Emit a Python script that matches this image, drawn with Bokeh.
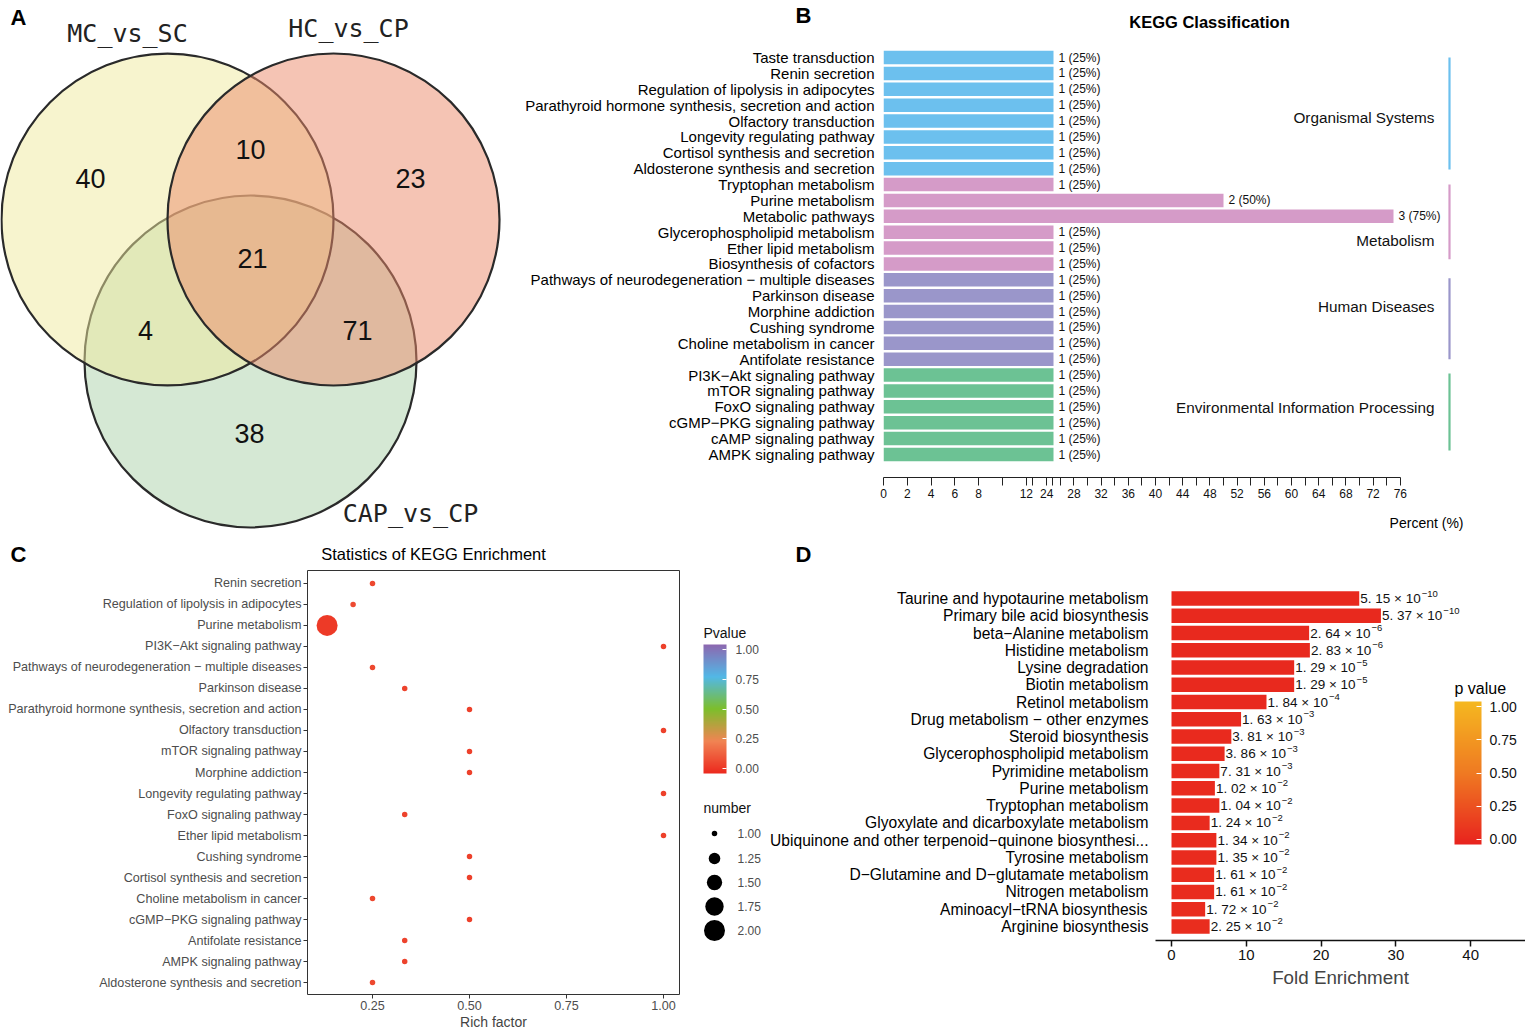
import numpy as np
from bokeh.plotting import figure
from bokeh.models import (Range1d, FixedTicker, ColorBar, LinearColorMapper,
                          PrintfTickFormatter, ColumnDataSource)
from bokeh.layouts import column, row
from bokeh.core.properties import value
from bokeh.embed import file_html
from bokeh.resources import INLINE

SANS = "Liberation Sans"
MONO = "DejaVu Sans Mono"

# ---------------- Panel A : Venn data ----------------
venn_sets = ["MC_vs_SC", "HC_vs_CP", "CAP_vs_CP"]
venn_regions = ["MC only", "MC&HC", "HC only", "MC&HC&CAP", "MC&CAP", "HC&CAP", "CAP only"]
venn_counts = [40, 10, 23, 21, 4, 71, 38]

# ---------------- Panel B : KEGG classification ----------------
kegg_terms = [
    "Taste transduction", "Renin secretion", "Regulation of lipolysis in adipocytes",
    "Parathyroid hormone synthesis, secretion and action", "Olfactory transduction",
    "Longevity regulating pathway", "Cortisol synthesis and secretion",
    "Aldosterone synthesis and secretion", "Tryptophan metabolism", "Purine metabolism",
    "Metabolic pathways", "Glycerophospholipid metabolism", "Ether lipid metabolism",
    "Biosynthesis of cofactors", "Pathways of neurodegeneration \u2212 multiple diseases",
    "Parkinson disease", "Morphine addiction", "Cushing syndrome",
    "Choline metabolism in cancer", "Antifolate resistance", "PI3K\u2212Akt signaling pathway",
    "mTOR signaling pathway", "FoxO signaling pathway", "cGMP\u2212PKG signaling pathway",
    "cAMP signaling pathway", "AMPK signaling pathway"]
kegg_counts = [1, 1, 1, 1, 1, 1, 1, 1,
               1, 2, 3, 1, 1, 1,
               1, 1, 1, 1, 1, 1,
               1, 1, 1, 1, 1, 1]
kegg_total = 4
kegg_groups = (["Organismal Systems"] * 8 + ["Metabolism"] * 6 +
               ["Human Diseases"] * 6 + ["Environmental Information Processing"] * 6)
kegg_group_names = ["Organismal Systems", "Metabolism", "Human Diseases",
                    "Environmental Information Processing"]
kegg_ticks_lower = [0, 2, 4, 6, 8, 10, 12]
kegg_ticks_upper = [24, 26, 28, 30, 32, 34, 36, 38, 40, 42, 44, 46, 48, 50, 52, 54, 56,
                    58, 60, 62, 64, 66, 68, 70, 72, 74, 76]

# ---------------- Panel C : enrichment dot plot ----------------
enr_terms = [
    "Renin secretion", "Regulation of lipolysis in adipocytes", "Purine metabolism",
    "PI3K\u2212Akt signaling pathway", "Pathways of neurodegeneration \u2212 multiple diseases",
    "Parkinson disease", "Parathyroid hormone synthesis, secretion and action",
    "Olfactory transduction", "mTOR signaling pathway", "Morphine addiction",
    "Longevity regulating pathway", "FoxO signaling pathway", "Ether lipid metabolism",
    "Cushing syndrome", "Cortisol synthesis and secretion", "Choline metabolism in cancer",
    "cGMP\u2212PKG signaling pathway", "Antifolate resistance", "AMPK signaling pathway",
    "Aldosterone synthesis and secretion"]
enr_rich = [0.25, 0.20, 0.133, 1.00, 0.25, 0.333, 0.50, 1.00, 0.50, 0.50,
            1.00, 0.333, 1.00, 0.50, 0.50, 0.25, 0.50, 0.333, 0.333, 0.25]
enr_number = [1, 1, 2, 1, 1, 1, 1, 1, 1, 1, 1, 1, 1, 1, 1, 1, 1, 1, 1, 1]
enr_pvalue = [0.05, 0.06, 0.01, 0.03, 0.05, 0.04, 0.03, 0.03, 0.03, 0.03,
              0.03, 0.04, 0.03, 0.03, 0.03, 0.05, 0.03, 0.04, 0.04, 0.05]
enr_size_breaks = [1.00, 1.25, 1.50, 1.75, 2.00]
enr_p_breaks = [0.0, 0.25, 0.5, 0.75, 1.0]

# ---------------- Panel D : fold enrichment ----------------
fe_terms = [
    "Taurine and hypotaurine metabolism", "Primary bile acid biosynthesis",
    "beta\u2212Alanine metabolism", "Histidine metabolism", "Lysine degradation",
    "Biotin metabolism", "Retinol metabolism", "Drug metabolism \u2212 other enzymes",
    "Steroid biosynthesis", "Glycerophospholipid metabolism", "Pyrimidine metabolism",
    "Purine metabolism", "Tryptophan metabolism", "Glyoxylate and dicarboxylate metabolism",
    "Ubiquinone and other terpenoid\u2212quinone biosynthesi...", "Tyrosine metabolism",
    "D\u2212Glutamine and D\u2212glutamate metabolism", "Nitrogen metabolism",
    "Aminoacyl\u2212tRNA biosynthesis", "Arginine biosynthesis"]
fe_fold = [25.1, 28.0, 18.4, 18.5, 16.4, 16.4, 12.7, 9.3, 8.0, 7.1,
           6.4, 5.8, 6.4, 5.1, 6.0, 6.0, 5.7, 5.7, 4.5, 5.1]
fe_p_mant = [5.15, 5.37, 2.64, 2.83, 1.29, 1.29, 1.84, 1.63, 3.81, 3.86,
             7.31, 1.02, 1.04, 1.24, 1.34, 1.35, 1.61, 1.61, 1.72, 2.25]
fe_p_exp = [-10, -10, -6, -6, -5, -5, -4, -3, -3, -3,
            -3, -2, -2, -2, -2, -2, -2, -2, -2, -2]
fe_ticks = [0, 10, 20, 30, 40]


# ---------------- helpers ----------------
def ramp(stops, n=256):
    xs = [s[0] for s in stops]
    rgb = [tuple(int(s[1][i:i + 2], 16) for i in (1, 3, 5)) for s in stops]
    out = []
    for t in np.linspace(0, 1, n):
        c = [np.interp(t, xs, [r[k] for r in rgb]) for k in range(3)]
        out.append("#%02x%02x%02x" % tuple(int(round(v)) for v in c))
    return out


def new_fig(w, h, xr, yr, axes=True):
    kw = dict(width=w, height=h, x_range=xr, y_range=yr, output_backend="svg",
              toolbar_location=None, tools="")
    if not axes:
        kw.update(x_axis_type=None, y_axis_type=None)
    p = figure(**kw)
    p.frame_align = False
    p.min_border_left = p.min_border_right = p.min_border_top = p.min_border_bottom = 0
    p.outline_line_color = None
    p.grid.visible = False
    p.background_fill_color = "white"
    p.border_fill_color = "white"
    return p


def put_text(p, x, y, t, size, bold=False, align="center", color="#000000", font=SANS):
    p.text(x=[x], y=[y], text=[t], text_font=value(font), text_font_size=size,
           text_font_style="bold" if bold else "normal", text_align=align,
           text_baseline="middle", text_color=color)


def dot_size(n, smin=5.5, smax=21.0):
    t = (n - 1.0) / (2.0 - 1.0)
    return float(np.sqrt(t * (smax ** 2 - smin ** 2) + smin ** 2))


# =============== Panel A ===============
pa = new_fig(515, 543, Range1d(0, 515), Range1d(543, 0), axes=False)
venn_cx = [167, 333, 250]
venn_cy = [219, 219, 361]
venn_r = 166
venn_fill = ["#EFE99D", "#EB8969", "#ABD1A9"]
draw_order = [2, 0, 1]
pa.circle(x=[venn_cx[i] for i in draw_order], y=[venn_cy[i] for i in draw_order],
          radius=venn_r, fill_color=[venn_fill[i] for i in draw_order], fill_alpha=0.5,
          line_color="#2a2a2a", line_width=2.2)
venn_set_xy = [(127, 33), (348, 28), (410, 513)]
venn_region_xy = [(90, 178), (250, 149), (410, 178), (252, 258), (145, 330), (357, 330), (249, 433)]
pa.text(x=[p[0] for p in venn_set_xy], y=[p[1] for p in venn_set_xy], text=venn_sets,
        text_font=value(MONO), text_font_size="25px", text_color="#222222",
        text_align="center", text_baseline="middle")
pa.text(x=[p[0] for p in venn_region_xy], y=[p[1] for p in venn_region_xy],
        text=[str(c) for c in venn_counts], text_font=value(SANS), text_font_size="27px",
        text_color="#111111", text_align="center", text_baseline="middle")
put_text(pa, 18, 17, "A", "22px", bold=True)

# =============== Panel B ===============
B_X0, B_PPU, B_Y0, B_DY = 883, 6.8, 57, 15.88


def bx(px):
    return (px - B_X0) / B_PPU


def by(py):
    return (py - B_Y0) / B_DY


def brk(v):  # broken percent axis: 0-12 stretched, gap, then 24-76
    return v * 1.75 if v <= 12 else v


pb_top = new_fig(1010, 41, Range1d(515, 1525), Range1d(41, 0), axes=False)
put_text(pb_top, 803, 15, "B", "22px", bold=True)
put_text(pb_top, 1209, 21, "KEGG Classification", "16.5px", bold=True)

pb = new_fig(1010, 470, Range1d(0, bx(1525)), Range1d(by(477), by(41)))
pb.min_border_left = 368
pb.min_border_bottom = 34

group_color = {"Organismal Systems": "#6CC0EE", "Metabolism": "#D59BC8",
               "Human Diseases": "#9A96CA", "Environmental Information Processing": "#6CC294"}
kegg_pct = [c / kegg_total * 100 for c in kegg_counts]
src_b = ColumnDataSource(dict(
    y=list(range(len(kegg_terms))), right=[brk(v) for v in kegg_pct],
    color=[group_color[g] for g in kegg_groups],
    lab=["%d (%d%%)" % (c, round(v)) for c, v in zip(kegg_counts, kegg_pct)]))
pb.hbar(y="y", left=0, right="right", height=0.85, fill_color="color", line_color=None,
        source=src_b)
pb.text(x="right", y="y", text="lab", x_offset=5, text_font=value(SANS),
        text_font_size="12px", text_color="#111111", text_align="left",
        text_baseline="middle", source=src_b)

kegg_group_span = [(0.0, 7.05), (8.0, 12.7), (13.9, 19.0), (19.9, 24.75)]
kegg_group_label_y = [3.78, 11.5, 15.7, 22.04]
pb.segment(x0=bx(1449), x1=bx(1449), y0=[s[0] for s in kegg_group_span],
           y1=[s[1] for s in kegg_group_span],
           line_color=[group_color[g] for g in kegg_group_names], line_width=2.2)
pb.text(x=bx(1434), y=kegg_group_label_y, text=kegg_group_names, text_font=value(SANS),
        text_font_size="15.3px", text_color="#111111", text_align="right",
        text_baseline="middle")

b_ticks, b_over = [], {}
for v in kegg_ticks_lower:
    u = brk(v)
    b_ticks.append(u)
    b_over[u] = "" if v == 10 else str(v)
for u in (21.9, 24.8):
    b_ticks.append(u)
    b_over[u] = ""
for v in kegg_ticks_upper:
    u = brk(v)
    b_ticks.append(u)
    b_over[u] = str(v) if v % 4 == 0 else ""
xa = pb.xaxis[0]
xa.ticker = FixedTicker(ticks=b_ticks)
xa.major_label_overrides = b_over
xa.bounds = (0, 76)
xa.axis_line_color = "#222222"
xa.major_tick_line_color = "#222222"
xa.major_tick_in = 0
xa.major_tick_out = 8
xa.minor_tick_line_color = None
xa.major_label_text_font = SANS
xa.major_label_text_font_size = "12px"
xa.major_label_text_color = "#111111"
xa.major_label_standoff = 3

ya = pb.yaxis[0]
ya.ticker = FixedTicker(ticks=list(range(len(kegg_terms))))
ya.major_label_overrides = {i: t for i, t in enumerate(kegg_terms)}
ya.axis_line_color = None
ya.major_tick_line_color = None
ya.major_tick_in = 0
ya.major_tick_out = 0
ya.minor_tick_line_color = None
ya.major_label_standoff = 9
ya.major_label_text_font = SANS
ya.major_label_text_font_size = "15px"
ya.major_label_text_color = "#000000"

pb_bot = new_fig(1010, 32, Range1d(515, 1525), Range1d(543, 511), axes=False)
put_text(pb_bot, 1463, 522, "Percent (%)", "14px", align="right")

# =============== Panel C ===============
C_DY = 21.16


def cx(px):
    return 0.25 + (px - 372) / 388.0


def cy(py):
    return (py - 583) / C_DY


pal_c = ramp([(0.0, "#EC2A1E"), (0.25, "#F08453"), (0.5, "#7DBE2C"),
              (0.75, "#52B8E6"), (1.0, "#8C68B0")])
cmap_c = LinearColorMapper(palette=pal_c, low=-0.04, high=1.04)

pc_top = new_fig(698, 27, Range1d(0, 698), Range1d(570, 543), axes=False)
put_text(pc_top, 18, 554, "C", "22px", bold=True)
put_text(pc_top, 433, 553, "Statistics of KEGG Enrichment", "16.5px")

pc = new_fig(698, 462, Range1d(cx(307), cx(679)), Range1d(cy(997), cy(570)))
pc.min_border_left = 307
pc.min_border_right = 19
pc.min_border_bottom = 35
pc.outline_line_color = "#333333"
pc.outline_line_width = 1

src_c = ColumnDataSource(dict(x=enr_rich, y=list(range(len(enr_terms))), p=enr_pvalue,
                              s=[dot_size(n) for n in enr_number]))
pc.scatter(x="x", y="y", size="s", source=src_c, line_color=None,
           fill_color={"field": "p", "transform": cmap_c})

for ax in (pc.xaxis[0], pc.yaxis[0]):
    ax.axis_line_color = None
    ax.major_tick_line_color = "#333333"
    ax.major_tick_in = 0
    ax.major_tick_out = 4
    ax.minor_tick_line_color = None
    ax.major_label_text_font = SANS
    ax.major_label_text_font_size = "12.6px"
    ax.major_label_text_color = "#4D4D4D"
    ax.major_label_standoff = 2
pc.xaxis[0].ticker = FixedTicker(ticks=[0.25, 0.5, 0.75, 1.0])
pc.xaxis[0].formatter = PrintfTickFormatter(format="%.2f")
pc.xaxis[0].axis_label = "Rich factor"
pc.xaxis[0].axis_label_text_font = SANS
pc.xaxis[0].axis_label_text_font_size = "14px"
pc.xaxis[0].axis_label_text_font_style = "normal"
pc.xaxis[0].axis_label_standoff = 1
pc.yaxis[0].ticker = FixedTicker(ticks=list(range(len(enr_terms))))
pc.yaxis[0].major_label_overrides = {i: t for i, t in enumerate(enr_terms)}

# legend for panel C
pcl = new_fig(64, 489, Range1d(698, 762), Range1d(1032, 543), axes=False)
cb_c = ColorBar(color_mapper=cmap_c, ticker=FixedTicker(ticks=enr_p_breaks),
                formatter=PrintfTickFormatter(format="%.2f"), width=23, height=129,
                location=(5, 259), padding=0, orientation="vertical",
                major_label_text_font=SANS, major_label_text_font_size="12px",
                major_label_text_color="#4D4D4D", major_tick_line_color="white",
                major_tick_in=4, major_tick_out=0, bar_line_color=None,
                border_line_color=None, background_fill_alpha=0, label_standoff=9)
pcl.add_layout(cb_c, "center")
pcl.text(x=[703, 703], y=[632, 807], text=["Pvalue", "number"], text_font=value(SANS),
         text_font_size="14px", text_color="#111111", text_align="left",
         text_baseline="middle")
leg_y = [833, 858, 882, 906, 930]
pcl.scatter(x=[714] * len(enr_size_breaks), y=leg_y,
            size=[dot_size(n) for n in enr_size_breaks], fill_color="black", line_color=None)
pcl.text(x=[737] * len(enr_size_breaks), y=leg_y, text=["%.2f" % n for n in enr_size_breaks],
         text_font=value(SANS), text_font_size="12px", text_color="#4D4D4D",
         text_align="left", text_baseline="middle")

# =============== Panel D ===============
D_X0, D_PPU, D_Y0, D_DY = 1171, 7.48, 598, 17.26


def dx(px):
    return (px - D_X0) / D_PPU


def dy(py):
    return (py - D_Y0) / D_DY


pal_d = ramp([(0.0, "#E8231E"), (0.5, "#EF7A22"), (1.0, "#F5B820")])
cmap_d = LinearColorMapper(palette=pal_d, low=-0.04, high=1.04)

pd_top = new_fig(763, 42, Range1d(762, 1525), Range1d(585, 543), axes=False)
put_text(pd_top, 803, 554, "D", "22px", bold=True)

pdd = new_fig(763, 447, Range1d(dx(1155), dx(1525)), Range1d(dy(940), dy(585)))
pdd.min_border_left = 393
pdd.min_border_bottom = 92

LAB_PX = 13.5
base_w = 4.476 * LAB_PX  # width of "d. dd x 10" in Liberation Sans em units
fe_p = [m * 10.0 ** e for m, e in zip(fe_p_mant, fe_p_exp)]
src_d = ColumnDataSource(dict(
    y=list(range(len(fe_terms))), r=fe_fold, p=fe_p,
    lab=[("%.2f" % m).replace(".", ". ") + " \u00d7 10" for m in fe_p_mant],
    ex=[str(e).replace("-", "\u2212") for e in fe_p_exp]))
pdd.hbar(y="y", left=0, right="r", height=0.84, source=src_d, line_color=None,
         fill_color={"field": "p", "transform": cmap_d})
pdd.text(x="r", y="y", text="lab", x_offset=1, text_font=value(SANS),
         text_font_size="%.1fpx" % LAB_PX, text_color="#111111", text_align="left",
         text_baseline="middle", source=src_d)
pdd.text(x="r", y="y", text="ex", x_offset=1 + base_w + 1, y_offset=-5,
         text_font=value(SANS), text_font_size="9.5px", text_color="#111111",
         text_align="left", text_baseline="middle", source=src_d)

xd = pdd.xaxis[0]
xd.ticker = FixedTicker(ticks=fe_ticks)
xd.axis_line_color = "#111111"
xd.axis_line_width = 1.5
xd.major_tick_line_color = "#111111"
xd.major_tick_line_width = 1.5
xd.major_tick_in = 0
xd.major_tick_out = 6
xd.minor_tick_line_color = None
xd.major_label_text_font = SANS
xd.major_label_text_font_size = "15px"
xd.major_label_text_color = "#111111"
xd.major_label_standoff = 3
xd.axis_label = "Fold Enrichment"
xd.axis_label_text_font = SANS
xd.axis_label_text_font_size = "18.8px"
xd.axis_label_text_font_style = "normal"
xd.axis_label_standoff = 4

yd = pdd.yaxis[0]
yd.ticker = FixedTicker(ticks=list(range(len(fe_terms))))
yd.major_label_overrides = {i: t for i, t in enumerate(fe_terms)}
yd.axis_line_color = None
yd.major_tick_line_color = None
yd.major_tick_in = 0
yd.major_tick_out = 0
yd.minor_tick_line_color = None
yd.major_label_standoff = 7
yd.major_label_text_font = SANS
yd.major_label_text_font_size = "15.6px"
yd.major_label_text_color = "#000000"

cb_d = ColorBar(color_mapper=cmap_d, ticker=FixedTicker(ticks=enr_p_breaks),
                formatter=PrintfTickFormatter(format="%.2f"), width=27, height=143,
                location=(299, 96), padding=0, orientation="vertical",
                major_label_text_font=SANS, major_label_text_font_size="14px",
                major_label_text_color="#111111", major_tick_line_color="white",
                major_tick_in=5, major_tick_out=0, bar_line_color=None,
                border_line_color=None, background_fill_alpha=0, label_standoff=8)
pdd.add_layout(cb_d, "center")
put_text(pdd, dx(1454), dy(688), "p value", "16px", align="left")

page = column(row(pa, column(pb_top, pb, pb_bot)),
              row(column(pc_top, pc), pcl, column(pd_top, pdd)))
open("out.html", "w").write(file_html(page, INLINE))
